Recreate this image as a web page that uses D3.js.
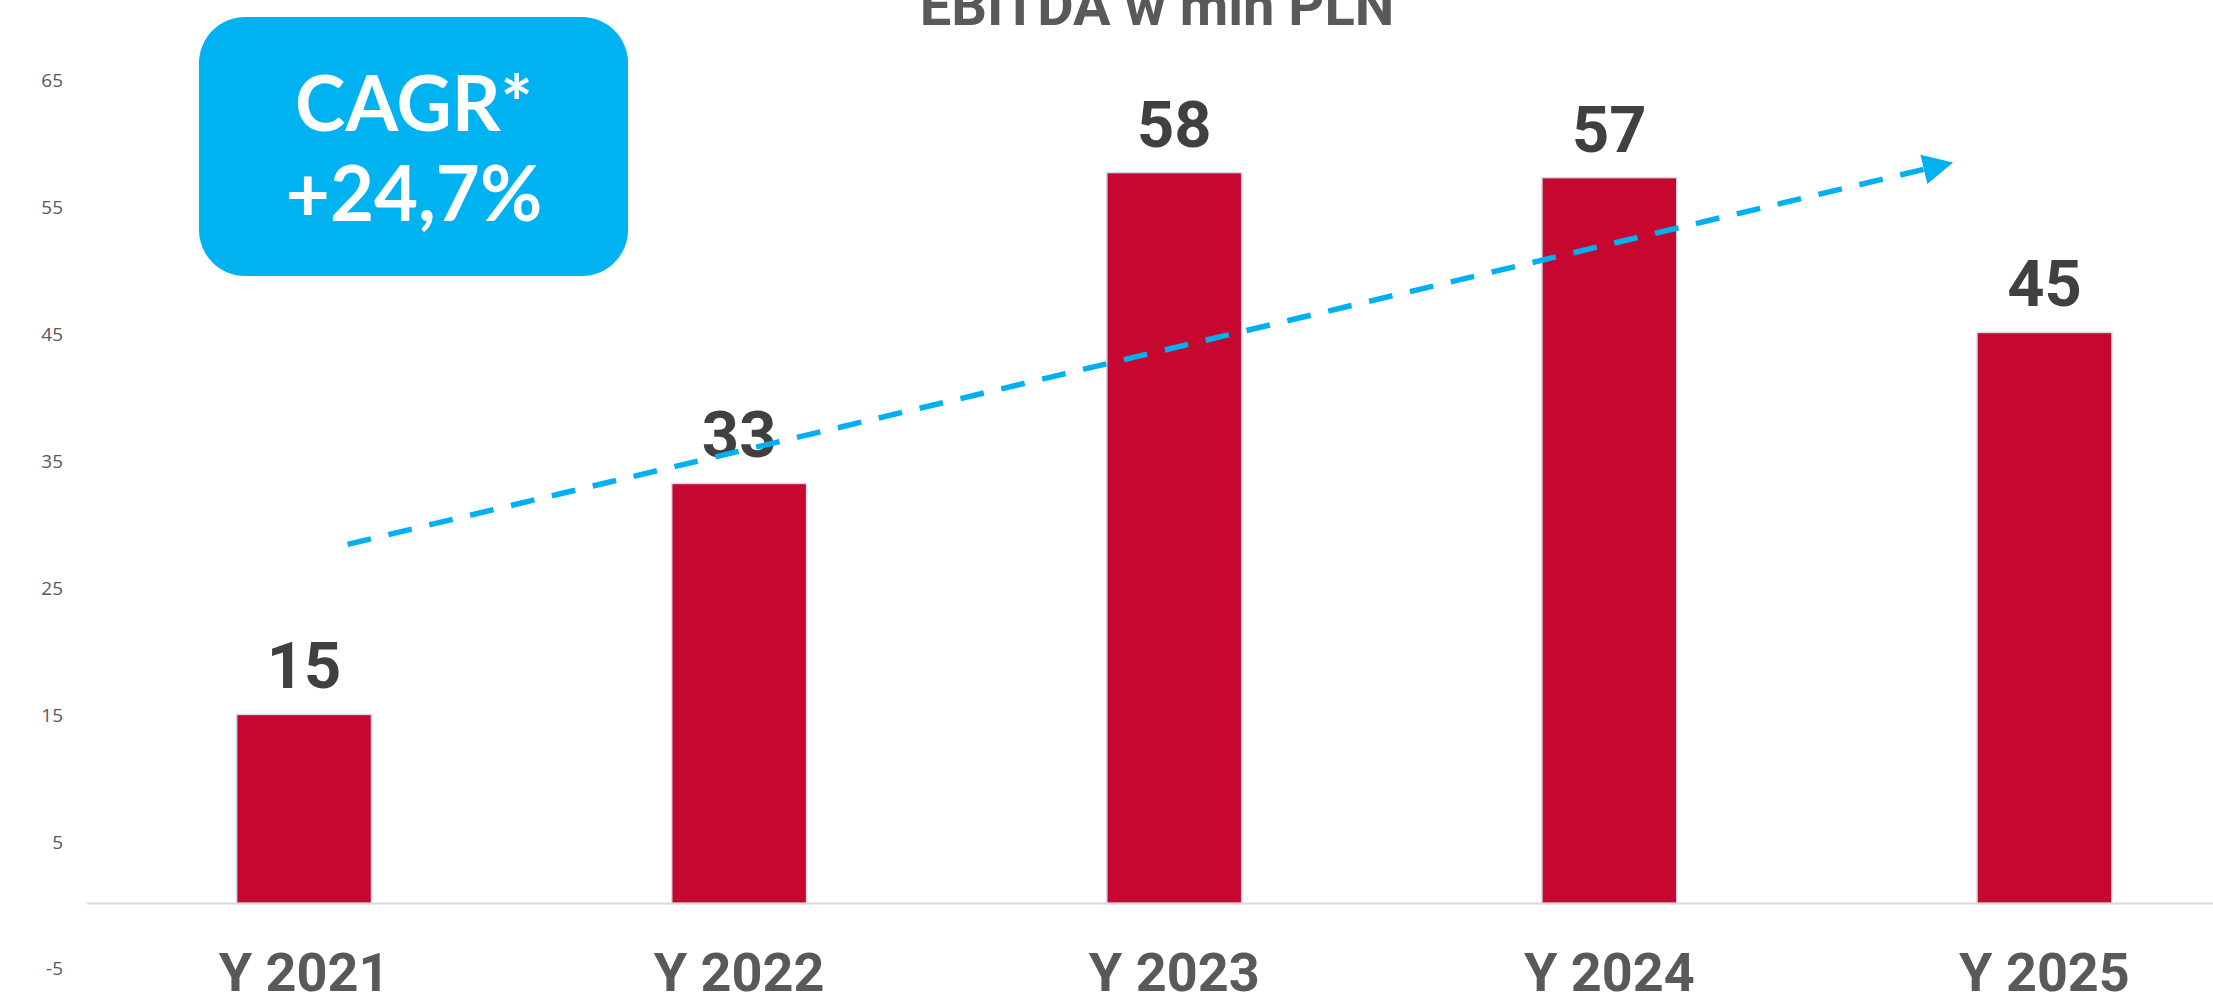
<!DOCTYPE html>
<html>
<head>
<meta charset="utf-8">
<script src="https://cdn.jsdelivr.net/npm/d3@7"></script>
<style>
  html, body { margin: 0; padding: 0; background: #fff; overflow: hidden; }
</style>
</head>
<body>
<div id="chart"></div>
<script>
// data
var years = ['Y 2021', 'Y 2022', 'Y 2023', 'Y 2024', 'Y 2025'];
var ebitda = [14.9, 33.1, 57.6, 57.2, 45.0];
var yTicks = [-5, 5, 15, 25, 35, 45, 55, 65];
var title = 'EBITDA w mln PLN';
var cagrLines = ['CAGR*', '+24,7%'];
// trend arrow: [category position, value]
var trendFrom = [0.1, 28.3];
var trendTo = [3.79, 58.4];

var svgW = 2213;
var svgH = 997;

var svg = d3.select('#chart').append('svg')
    .attr('width', svgW)
    .attr('height', svgH);

var x = d3.scaleBand()
    .domain(years)
    .range([86.5, 2262])
    .paddingInner(0.69)
    .paddingOuter(0.345);

// index -> bar centre, for the trend arrow
var xi = d3.scaleLinear()
    .domain([0, 1])
    .range([x(years[0]) + x.bandwidth() / 2, x(years[1]) + x.bandwidth() / 2]);

var y = d3.scaleLinear()
    .domain([-5, 70])
    .range([903.5 + 5 * 12.69, 903.5 - 70 * 12.69]);

// title (cut at the top like the source)
svg.append('text')
    .attr('x', 1157)
    .attr('y', 25)
    .attr('text-anchor', 'middle')
    .attr('font-family', 'Roboto, Arial, sans-serif')
    .attr('font-weight', 700)
    .attr('font-size', 56)
    .attr('fill', '#595959')
    .text(title);

// y axis labels only, no line; plain hyphen for the minus like the source
var yAxis = d3.axisLeft(y)
    .tickValues(yTicks)
    .tickFormat(function (d) { return String(d); })
    .tickSize(0)
    .tickPadding(0);
var yg = svg.append('g')
    .attr('transform', 'translate(63,0)')
    .call(yAxis);
yg.select('.domain').remove();
yg.selectAll('text')
    .attr('font-family', '"Open Sans", Calibri, sans-serif')
    .attr('font-size', 19)
    .attr('fill', '#595959')
    .attr('dy', '0.42em');

// bars
svg.selectAll('rect.bar')
    .data(ebitda)
    .enter()
    .append('rect')
    .attr('class', 'bar')
    .attr('x', function (d, i) { return x(years[i]); })
    .attr('y', function (d) { return y(d); })
    .attr('width', x.bandwidth())
    .attr('height', function (d) { return y(0) - y(d); })
    .attr('fill', '#C60830')
    .attr('stroke', '#D3DAEC')
    .attr('stroke-width', 1.5);

// zero line
svg.append('line')
    .attr('x1', 87)
    .attr('x2', svgW)
    .attr('y1', y(0))
    .attr('y2', y(0))
    .attr('stroke', '#D9D9D9')
    .attr('stroke-width', 2);

// value labels
svg.selectAll('text.val')
    .data(ebitda)
    .enter()
    .append('text')
    .attr('class', 'val')
    .attr('x', function (d, i) { return x(years[i]) + x.bandwidth() / 2; })
    .attr('y', function (d) { return y(d) - 26; })
    .attr('text-anchor', 'middle')
    .attr('font-family', 'Roboto, Arial, sans-serif')
    .attr('font-weight', 700)
    .attr('font-size', 65)
    .attr('fill', '#404040')
    .text(function (d) { return Math.round(d); });

// category labels
svg.selectAll('text.cat')
    .data(years)
    .enter()
    .append('text')
    .attr('class', 'cat')
    .attr('x', function (d) { return x(d) + x.bandwidth() / 2; })
    .attr('y', 991)
    .attr('text-anchor', 'middle')
    .attr('font-family', 'Roboto, Arial, sans-serif')
    .attr('font-weight', 700)
    .attr('font-size', 54)
    .attr('fill', '#595959')
    .text(function (d) { return d; });

// dashed trend arrow
var x1 = xi(trendFrom[0]), y1 = y(trendFrom[1]);
var x2 = xi(trendTo[0]), y2 = y(trendTo[1]);
var ang = Math.atan2(y2 - y1, x2 - x1);
var headLen = 30, headW = 15;
var bx = x2 - headLen * Math.cos(ang), by = y2 - headLen * Math.sin(ang);

svg.append('line')
    .attr('x1', x1).attr('y1', y1)
    .attr('x2', bx).attr('y2', by)
    .attr('stroke', '#00B0F0')
    .attr('stroke-width', 5.5)
    .attr('stroke-dasharray', '24,18');

svg.append('polygon')
    .attr('points', [
        [x2, y2],
        [bx + headW * Math.sin(ang), by - headW * Math.cos(ang)],
        [bx - headW * Math.sin(ang), by + headW * Math.cos(ang)]
    ].map(function (p) { return p.join(','); }).join(' '))
    .attr('fill', '#00B0F0');

// CAGR box
var box = svg.append('g');
box.append('rect')
    .attr('x', 199)
    .attr('y', 17)
    .attr('width', 429)
    .attr('height', 259)
    .attr('rx', 46)
    .attr('fill', '#00B2F0');
box.selectAll('text')
    .data(cagrLines)
    .enter()
    .append('text')
    .attr('x', 414)
    .attr('y', function (d, i) { return i == 0 ? 131 : 221; })
    .attr('text-anchor', 'middle')
    .attr('font-family', 'Lato, "DejaVu Sans", sans-serif')
    .attr('font-weight', 700)
    .attr('font-size', 76)
    .attr('fill', '#fff')
    .text(function (d) { return d; });
</script>
</body>
</html>
